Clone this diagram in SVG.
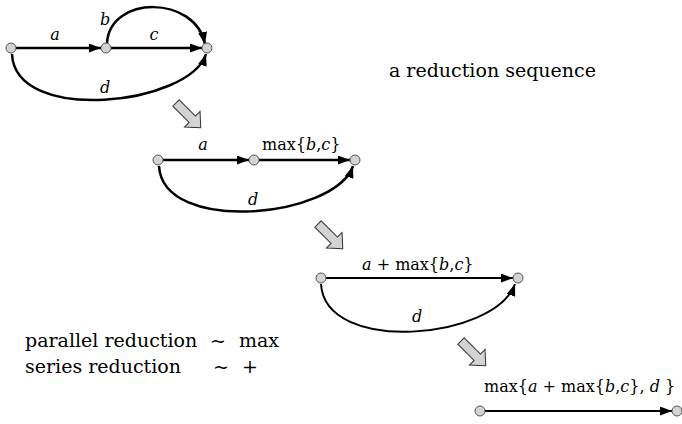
<svg xmlns="http://www.w3.org/2000/svg" width="682" height="424" viewBox="0 0 682 424">
<style>
text { font-family: "DejaVu Serif", "Liberation Serif", serif; fill: #000; }
.lbl { font-size: 16px; }
.big { font-size: 19px; }
.i { font-style: italic; }
.node { fill: #d3d3d3; stroke: #555; stroke-width: 1; }
.edge { fill: none; stroke: #000; stroke-width: 2.5; marker-end: url(#ah); }
.edge2 { fill: none; stroke: #000; stroke-width: 2; marker-end: url(#ah); }
.barrow { fill: #d3d3d3; stroke: #333; stroke-width: 1; }
</style>
<defs>
<marker id="ah" markerUnits="userSpaceOnUse" markerWidth="13" markerHeight="10" refX="12" refY="4.5" orient="auto">
<path d="M0,0 L12,4.5 L0,9 z" fill="#000"/>
</marker>
<polygon id="barrow" points="0,-4.5 23,-4.5 23,-11 35,0 23,11 23,4.5 0,4.5"/>
</defs>

<g id="connectors">
<path class="edge" d="M16,48 L101,48"/>
<path class="edge" d="M111,48 L202,48"/>
<path class="edge" d="M107,43 C110,-5 195,-5 205,44"/>
<path class="edge" d="M12,54 C15,125 190,105 206,54"/>
<path class="edge" d="M163,160 L249,160"/>
<path class="edge" d="M259,160 L350,160"/>
<path class="edge" d="M159,166 C163,235 335,218 353,166"/>
<path class="edge2" d="M326,278 L513,278"/>
<path class="edge2" d="M321,284 C325,355 495,340 515,284"/>
<path class="edge2" d="M485,411 L672,411"/>
</g>

<g id="reduction-arrows">
<use href="#barrow" class="barrow" transform="translate(176,103) rotate(45)"/>
<use href="#barrow" class="barrow" transform="translate(318,224) rotate(45)"/>
<use href="#barrow" class="barrow" transform="translate(461,341) rotate(45)"/>
</g>

<g id="g1-n1"><circle class="node" cx="11" cy="48" r="5"/></g>
<g id="g1-n2"><circle class="node" cx="106" cy="48" r="5"/></g>
<g id="g1-n3"><circle class="node" cx="207" cy="48" r="5"/></g>
<g id="g2-n1"><circle class="node" cx="158" cy="160" r="5"/></g>
<g id="g2-n2"><circle class="node" cx="254" cy="160" r="5"/></g>
<g id="g2-n3"><circle class="node" cx="355" cy="160" r="5"/></g>
<g id="g3-n1"><circle class="node" cx="321" cy="278" r="5"/></g>
<g id="g3-n2"><circle class="node" cx="518" cy="278" r="5"/></g>
<g id="g4-n1"><circle class="node" cx="480" cy="411" r="5"/></g>
<g id="g4-n2"><circle class="node" cx="677" cy="411" r="5"/></g>

<g id="labels">
<text class="lbl i" x="55" y="40" text-anchor="middle">a</text>
<text class="lbl i" x="154" y="40" text-anchor="middle">c</text>
<text class="lbl i" x="105" y="25" text-anchor="middle">b</text>
<text class="lbl i" x="105" y="93" text-anchor="middle">d</text>

<text class="lbl i" x="203" y="150" text-anchor="middle">a</text>
<text class="lbl" x="262" y="150">max{<tspan class="i">b</tspan>,<tspan class="i">c</tspan>}</text>
<text class="lbl i" x="253" y="205" text-anchor="middle">d</text>

<text class="lbl" x="362" y="270"><tspan class="i">a</tspan> + max{<tspan class="i">b</tspan>,<tspan class="i">c</tspan>}</text>
<text class="lbl i" x="417" y="322" text-anchor="middle">d</text>

<text class="lbl" x="484" y="392">max{<tspan class="i">a</tspan> + max{<tspan class="i">b</tspan>,<tspan class="i">c</tspan>}, <tspan class="i">d</tspan> }</text>

<text class="big" x="389" y="77">a reduction sequence</text>
<text class="big" x="25" y="347">parallel reduction <tspan x="210">~</tspan><tspan x="239">max</tspan></text>
<text class="big" x="25" y="373">series reduction <tspan x="213">~</tspan><tspan x="242">+</tspan></text>
</g>
</svg>
